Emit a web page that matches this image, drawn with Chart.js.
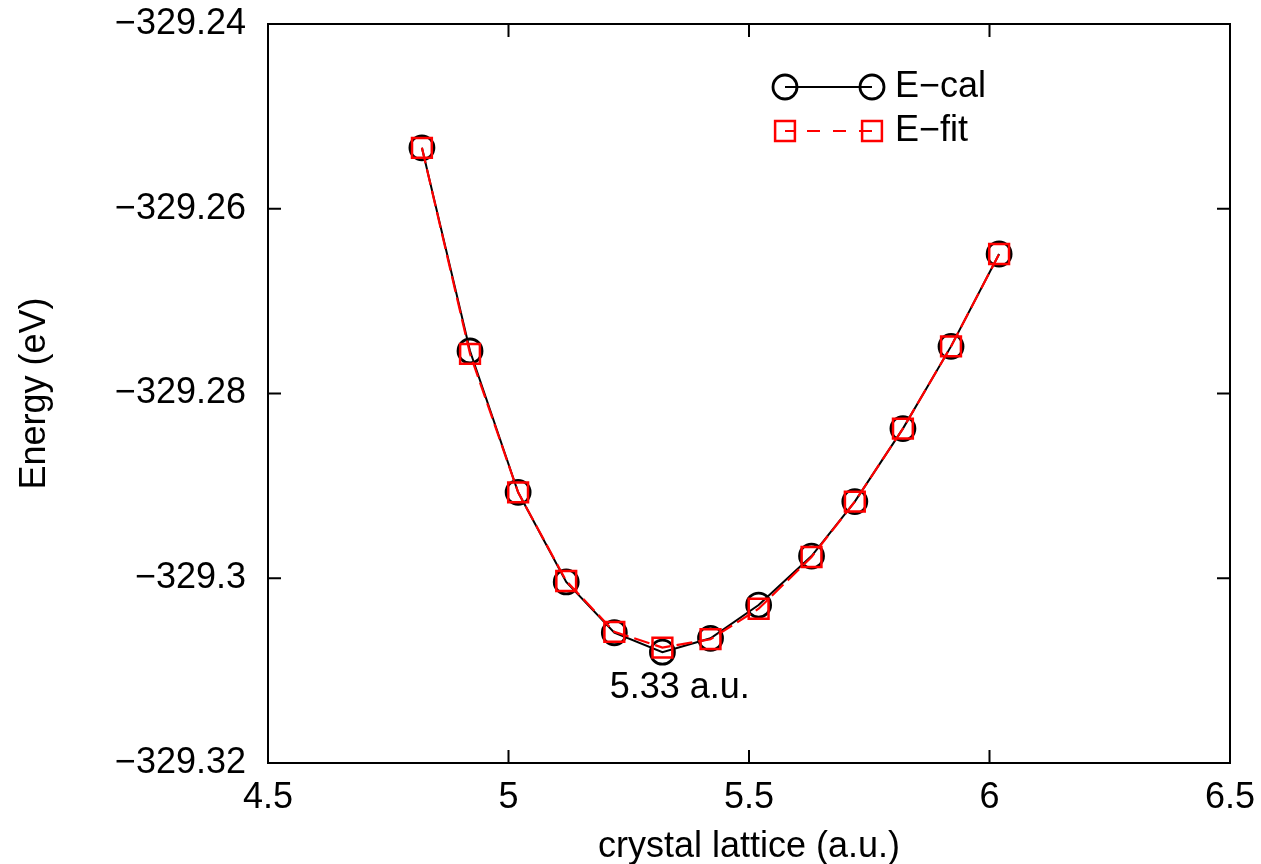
<!DOCTYPE html>
<html>
<head>
<meta charset="utf-8">
<script src="https://cdn.jsdelivr.net/npm/chart.js@4"></script>
<style>
  html, body { margin: 0; padding: 0; background: #fff; }
  #wrap { width: 1261px; height: 864px; }
</style>
</head>
<body>
<div id="wrap"><canvas id="chart"></canvas></div>
<script>
const FONT = '"Liberation Sans", Arial, Helvetica, sans-serif';
const FONT_SIZE = 36;

const latticeValues = [4.82, 4.92, 5.02, 5.12, 5.22, 5.32, 5.42, 5.52, 5.63, 5.72, 5.82, 5.92, 6.02];
const energyCal = [-329.2534, -329.2754, -329.2907, -329.3004, -329.3059, -329.3080, -329.3065,
  -329.3029, -329.2976, -329.2917, -329.2838, -329.2749, -329.2649];
const energyFit = [-329.2534, -329.2757, -329.2907, -329.3003, -329.3058, -329.3075, -329.3066,
  -329.3033, -329.2977, -329.2917, -329.2838, -329.2749, -329.2649];

const xTickValues = [4.5, 5, 5.5, 6, 6.5];
const xTickLabels = ['4.5', '5', '5.5', '6', '6.5'];
const yTickValues = [-329.24, -329.26, -329.28, -329.3, -329.32];
const yTickLabels = ['\u2212329.24', '\u2212329.26', '\u2212329.28', '\u2212329.3', '\u2212329.32'];

const seriesLabels = ['E\u2212cal', 'E\u2212fit'];
const minimumNote = { x: 5.356, y: -329.3119, text: '5.33 a.u.' };

function points(ys) {
  return latticeValues.map((x, i) => ({ x: x, y: ys[i] }));
}

// gnuplot-like frame with inward ticks, legend and the note
const framePlugin = {
  id: 'frame',
  afterDatasetsDraw(chart) {
    const ctx = chart.ctx;
    const a = chart.chartArea;
    const xs = chart.scales.x;
    const ys = chart.scales.y;
    const tick = 13;
    ctx.save();
    ctx.strokeStyle = '#000';
    ctx.lineWidth = 2;
    ctx.strokeRect(a.left, a.top, a.right - a.left, a.bottom - a.top);
    ctx.beginPath();
    xTickValues.forEach((v) => {
      const px = xs.getPixelForValue(v);
      ctx.moveTo(px, a.bottom); ctx.lineTo(px, a.bottom - tick);
      ctx.moveTo(px, a.top); ctx.lineTo(px, a.top + tick);
    });
    yTickValues.forEach((v) => {
      const py = ys.getPixelForValue(v);
      ctx.moveTo(a.left, py); ctx.lineTo(a.left + tick, py);
      ctx.moveTo(a.right, py); ctx.lineTo(a.right - tick, py);
    });
    ctx.stroke();

    // note under the minimum
    ctx.fillStyle = '#000';
    ctx.font = FONT_SIZE + 'px ' + FONT;
    ctx.textAlign = 'center';
    ctx.textBaseline = 'middle';
    ctx.fillText(minimumNote.text, xs.getPixelForValue(minimumNote.x), ys.getPixelForValue(minimumNote.y));

    // legend
    const lx0 = a.left + 517, lx1 = a.left + 604, tx = a.left + 627;
    chart.data.datasets.forEach((ds, i) => {
      const ly = a.top + 63 + i * 44;
      ctx.strokeStyle = ds.borderColor;
      ctx.lineWidth = ds.borderWidth;
      ctx.setLineDash(ds.borderDash ? [13, 13] : []);
      ctx.lineDashOffset = 4;
      ctx.beginPath();
      ctx.moveTo(lx0, ly); ctx.lineTo(lx1, ly);
      ctx.stroke();
      ctx.setLineDash([]);
      ctx.lineWidth = ds.pointBorderWidth;
      [lx0, lx1].forEach((px) => {
        ctx.beginPath();
        if (ds.pointStyle === 'rect') {
          const s = ds.pointRadius * Math.SQRT1_2;
          ctx.rect(px - s, ly - s, 2 * s, 2 * s);
        } else {
          ctx.arc(px, ly, ds.pointRadius, 0, Math.PI * 2);
        }
        ctx.stroke();
      });
      ctx.fillStyle = '#000';
      ctx.textAlign = 'left';
      ctx.fillText(ds.label, tx, ly);
    });
    ctx.restore();
  }
};

new Chart(document.getElementById('chart'), {
  type: 'scatter',
  data: {
    datasets: [
      {
        label: seriesLabels[0],
        data: points(energyCal),
        showLine: true,
        borderColor: '#000',
        borderWidth: 2,
        pointStyle: 'circle',
        pointRadius: 12,
        pointBorderWidth: 2.8,
        pointBorderColor: '#000',
        pointBackgroundColor: 'rgba(0,0,0,0)',
        order: 2,
      },
      {
        label: seriesLabels[1],
        data: points(energyFit),
        showLine: true,
        borderColor: '#ff0000',
        borderWidth: 2.2,
        borderDash: [16, 6],
        pointStyle: 'rect',
        pointRadius: 14,
        pointBorderWidth: 2.5,
        pointBorderColor: '#ff0000',
        pointBackgroundColor: 'rgba(0,0,0,0)',
        order: 1,
      },
    ],
  },
  options: {
    responsive: true,
    maintainAspectRatio: false,
    animation: false,
    layout: { padding: { top: 24, right: 31, left: 0, bottom: 0 } },
    plugins: {
      legend: { display: false },
      tooltip: { enabled: false },
    },
    scales: {
      x: {
        type: 'linear',
        min: 4.5,
        max: 6.5,
        afterBuildTicks: (s) => { s.ticks = xTickValues.map((v) => ({ value: v })); },
        afterFit: (s) => { s.height = 101; s.paddingLeft = 0; s.paddingRight = 0; },
        grid: { display: false, drawTicks: false },
        border: { display: false },
        ticks: {
          padding: 13,
          color: '#000',
          font: { family: FONT, size: FONT_SIZE },
          maxRotation: 0,
          callback: (v, i) => xTickLabels[i],
        },
        title: {
          display: true,
          text: 'crystal lattice (a.u.)',
          color: '#000',
          font: { family: FONT, size: FONT_SIZE, lineHeight: 1.0 },
          padding: { top: 0, bottom: -1 },
        },
      },
      y: {
        type: 'linear',
        min: -329.32,
        max: -329.24,
        afterBuildTicks: (s) => { s.ticks = yTickValues.map((v) => ({ value: v })); },
        afterFit: (s) => { s.width = 268; s.paddingTop = 0; s.paddingBottom = 0; },
        grid: { display: false, drawTicks: false },
        border: { display: false },
        ticks: {
          padding: 22,
          color: '#000',
          font: { family: FONT, size: FONT_SIZE },
          callback: (v, i) => yTickLabels[i],
        },
        title: {
          display: true,
          text: 'Energy (eV)',
          color: '#000',
          font: { family: FONT, size: FONT_SIZE, lineHeight: 1.0 },
          padding: { top: 17, bottom: 0 },
        },
      },
    },
  },
  plugins: [framePlugin],
});
</script>
</body>
</html>
